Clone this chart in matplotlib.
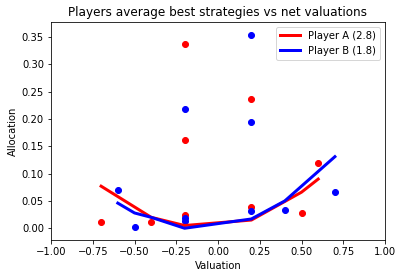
import matplotlib
matplotlib.use("Agg")
import matplotlib.pyplot as plt

# scatter points (valuation, allocation)
a_x = [-0.7, -0.4, -0.2, -0.2, -0.2, 0.2, 0.2, 0.5, 0.6]
a_y = [0.011, 0.011, 0.337, 0.161, 0.024, 0.236, 0.039, 0.027, 0.119]
b_x = [-0.6, -0.5, -0.2, -0.2, -0.2, 0.2, 0.2, 0.2, 0.4, 0.7]
b_y = [0.070, 0.002, 0.218, 0.018, 0.014, 0.354, 0.194, 0.031, 0.033, 0.066]

# average best strategy lines
a_line_x = [-0.7, -0.4, -0.2, 0.2, 0.4, 0.5, 0.6]
a_line_y = [0.077, 0.020, 0.005, 0.015, 0.049, 0.066, 0.090]
b_line_x = [-0.6, -0.5, -0.4, -0.2, 0.2, 0.4, 0.7]
b_line_y = [0.046, 0.028, 0.020, 0.000, 0.017, 0.050, 0.131]

fig = plt.figure(figsize=(403 / 72, 278 / 72), dpi=72)
ax = fig.add_axes([51 / 403, 1 - 240 / 278, (385 - 51) / 403, (240 - 21.7) / 278])

ax.scatter(a_x, a_y, c='red')
ax.scatter(b_x, b_y, c='blue')
ax.plot(a_line_x, a_line_y, c='red', lw=3, label='Player A (2.8)')
ax.plot(b_line_x, b_line_y, c='blue', lw=3, label='Player B (1.8)')

ax.set_xlim(-1, 1)
ax.set_ylim(-0.0215, 0.378)
ax.set_xticks([-1.0, -0.75, -0.5, -0.25, 0.0, 0.25, 0.5, 0.75, 1.0])
ax.set_title('Players average best strategies vs net valuations')
ax.set_xlabel('Valuation')
ax.set_ylabel('Allocation')
ax.legend(loc='upper right')

fig.savefig('out.png', dpi=72)
